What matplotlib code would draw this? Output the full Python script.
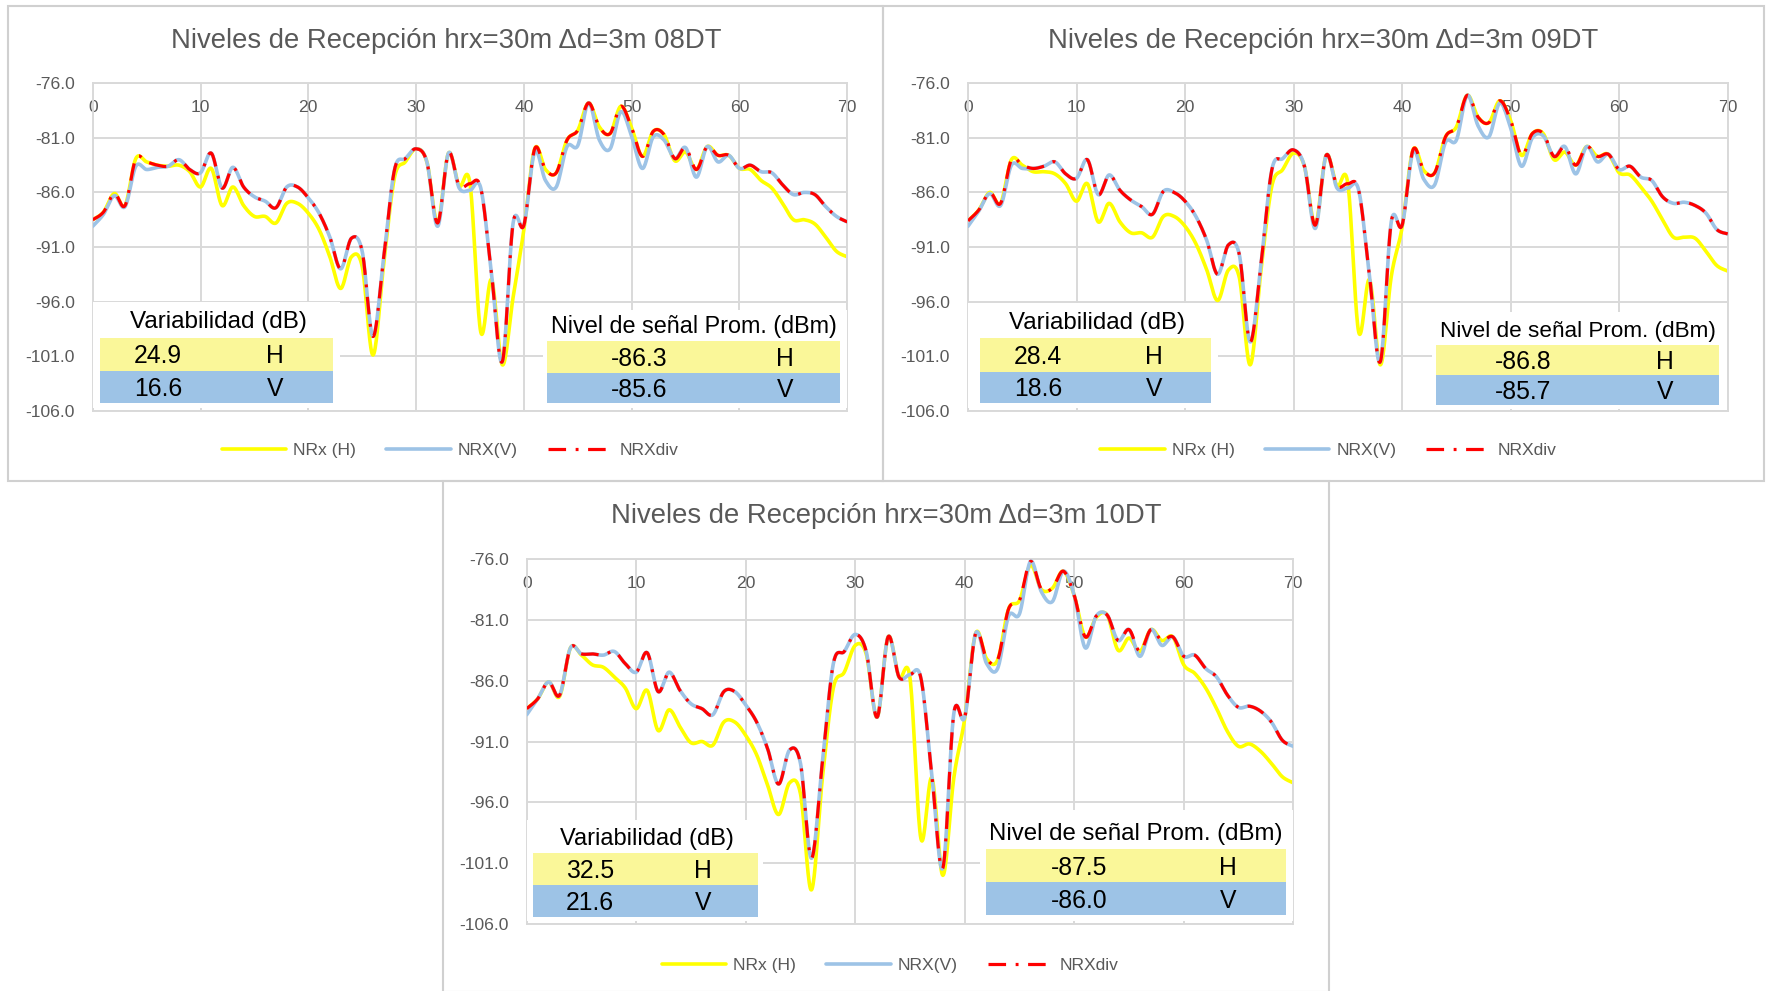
import numpy as np
import matplotlib
matplotlib.use("Agg")
import matplotlib.pyplot as plt
from matplotlib.patches import Rectangle

# ---------------- data ----------------
distance = list(range(0, 71))

titles = ["Niveles de Recepción hrx=30m Δd=3m 08DT",
          "Niveles de Recepción hrx=30m Δd=3m 09DT",
          "Niveles de Recepción hrx=30m Δd=3m 10DT"]
series_labels = ["NRx (H)", "NRX(V)", "NRXdiv"]
y_ticks = [-106.0, -101.0, -96.0, -91.0, -86.0, -81.0, -76.0]
x_ticks = [0, 10, 20, 30, 40, 50, 60, 70]

h_08 = [-88.5, -87.8, -86.1, -87.2, -82.9, -83.2, -83.5, -83.6, -83.5, -84.1,
        -85.5, -83.8, -87.2, -85.5, -87.2, -88.2, -88.2, -88.8, -87.0, -87.0,
        -87.9, -89.4, -91.9, -94.8, -91.9, -92.8, -100.9, -92.5, -84.6, -83.2,
        -82.0, -83.2, -88.8, -82.4, -85.4, -85.2, -98.8, -94.0, -101.8, -95.6,
        -89.4, -82.0, -83.9, -84.2, -81.2, -80.3, -77.8, -80.0, -80.6, -78.1,
        -80.1, -82.7, -80.4, -80.7, -83.1, -82.3, -83.9, -81.8, -82.6, -82.6,
        -83.8, -83.9, -84.9, -85.6, -87.0, -88.5, -88.5, -88.9, -90.1, -91.4, -91.9]
v_08 = [-89.1, -88.0, -86.3, -87.3, -83.6, -83.9, -83.7, -83.6, -83.0, -83.9,
        -84.2, -82.4, -85.6, -83.7, -85.5, -86.4, -86.8, -87.4, -85.5, -85.5,
        -86.5, -87.9, -90.1, -93.0, -90.2, -91.4, -99.2, -91.9, -83.9, -82.9,
        -82.0, -83.2, -89.1, -82.4, -85.6, -85.8, -85.6, -93.5, -101.5, -88.8,
        -89.0, -82.3, -84.9, -85.5, -81.8, -81.7, -77.8, -81.2, -82.0, -78.6,
        -80.9, -83.8, -80.9, -81.2, -82.9, -81.9, -84.6, -81.8, -83.2, -82.6,
        -83.8, -83.5, -84.1, -84.2, -85.3, -86.2, -86.0, -86.2, -87.3, -88.2, -88.7]
div_08 = [-88.5, -87.8, -86.1, -87.2, -82.9, -83.2, -83.5, -83.6, -83.0, -83.9,
          -84.2, -82.4, -85.6, -83.7, -85.5, -86.4, -86.8, -87.4, -85.5, -85.5,
          -86.5, -87.9, -90.1, -93.0, -90.2, -91.4, -99.2, -91.9, -83.9, -82.9,
          -82.0, -83.2, -88.8, -82.4, -85.4, -85.2, -85.6, -93.5, -101.5, -88.8,
          -89.0, -82.0, -83.9, -84.2, -81.2, -80.3, -77.8, -80.0, -80.6, -78.1,
          -80.1, -82.7, -80.4, -80.7, -82.9, -81.9, -83.9, -81.8, -82.6, -82.6,
          -83.8, -83.5, -84.1, -84.2, -85.3, -86.2, -86.0, -86.2, -87.3, -88.2, -88.7]

h_09 = [-88.6, -87.6, -86.0, -87.0, -83.0, -83.5, -84.1, -84.1, -84.3, -85.2,
        -86.8, -85.2, -88.7, -87.0, -88.7, -89.7, -89.7, -90.1, -88.2, -88.2,
        -89.1, -90.7, -93.1, -95.9, -93.1, -93.8, -101.8, -93.1, -85.4, -83.9,
        -82.4, -83.6, -89.0, -82.6, -85.4, -85.2, -98.8, -94.0, -101.8, -93.7,
        -89.2, -82.1, -84.0, -84.2, -80.9, -80.0, -77.1, -79.1, -79.6, -77.6,
        -79.4, -82.6, -80.6, -80.6, -83.0, -82.3, -83.5, -81.8, -82.7, -82.5,
        -84.2, -84.4, -85.5, -86.8, -88.5, -90.1, -90.1, -90.2, -91.4, -92.7, -93.2]
v_09 = [-89.1, -87.7, -86.1, -87.2, -83.5, -83.8, -83.8, -83.6, -83.2, -84.3,
        -84.7, -83.0, -86.2, -84.4, -85.8, -86.7, -87.3, -88.0, -85.9, -86.0,
        -86.8, -88.2, -90.4, -93.5, -90.8, -91.7, -99.7, -92.5, -83.9, -82.9,
        -82.1, -83.6, -89.3, -82.6, -85.6, -85.6, -85.8, -93.7, -101.5, -88.7,
        -89.0, -82.3, -84.8, -85.3, -81.4, -81.2, -77.1, -79.9, -80.9, -77.8,
        -80.1, -83.6, -81.0, -80.8, -82.7, -81.8, -84.3, -81.8, -83.2, -82.5,
        -83.9, -83.6, -84.6, -84.9, -86.4, -87.0, -86.9, -87.2, -87.9, -89.4, -89.8]
div_09 = [-88.6, -87.6, -86.0, -87.0, -83.0, -83.5, -83.8, -83.6, -83.2, -84.3,
          -84.7, -83.0, -86.2, -84.4, -85.8, -86.7, -87.3, -88.0, -85.9, -86.0,
          -86.8, -88.2, -90.4, -93.5, -90.8, -91.7, -99.7, -92.5, -83.9, -82.9,
          -82.1, -83.6, -89.0, -82.6, -85.4, -85.2, -85.8, -93.7, -101.5, -88.7,
          -89.0, -82.1, -84.0, -84.2, -80.9, -80.0, -77.1, -79.1, -79.6, -77.6,
          -79.4, -82.6, -80.6, -80.6, -82.7, -81.8, -83.5, -81.8, -82.7, -82.5,
          -83.9, -83.6, -84.6, -84.9, -86.4, -87.0, -86.9, -87.2, -87.9, -89.4, -89.8]

h_10 = [-88.3, -87.5, -86.1, -87.3, -83.3, -83.9, -84.7, -84.9, -85.7, -86.6,
        -88.3, -86.8, -90.1, -88.4, -89.8, -91.1, -91.0, -91.3, -89.4, -89.4,
        -90.5, -92.1, -94.6, -97.0, -94.4, -95.3, -103.2, -94.0, -86.6, -85.3,
        -83.1, -83.8, -89.0, -82.4, -85.7, -85.8, -99.0, -94.0, -102.0, -94.0,
        -89.1, -82.1, -84.2, -84.3, -80.1, -79.4, -76.5, -78.5, -78.4, -77.0,
        -79.0, -82.4, -80.8, -80.6, -83.5, -82.5, -83.6, -81.8, -82.7, -82.4,
        -84.7, -85.4, -86.6, -88.3, -90.2, -91.4, -91.2, -91.8, -92.8, -93.9, -94.4]
v_10 = [-88.8, -87.5, -86.1, -87.2, -83.3, -83.8, -83.8, -83.9, -83.6, -84.6,
        -85.3, -83.7, -86.9, -85.3, -86.8, -87.9, -88.3, -88.8, -86.9, -86.9,
        -88.0, -89.4, -91.6, -94.5, -91.7, -92.8, -100.6, -92.7, -84.6, -83.6,
        -82.2, -83.6, -89.0, -82.4, -85.7, -85.5, -85.8, -93.8, -101.4, -88.7,
        -89.0, -82.1, -84.6, -85.0, -80.7, -80.5, -76.2, -78.7, -79.5, -77.0,
        -79.0, -83.3, -80.7, -80.6, -82.7, -81.8, -84.0, -81.8, -83.1, -82.4,
        -84.0, -83.9, -85.0, -85.7, -87.2, -88.2, -88.1, -88.5, -89.4, -90.9, -91.4]
div_10 = [-88.3, -87.5, -86.1, -87.2, -83.3, -83.8, -83.8, -83.9, -83.6, -84.6,
          -85.3, -83.7, -86.9, -85.3, -86.8, -87.9, -88.3, -88.8, -86.9, -86.9,
          -88.0, -89.4, -91.6, -94.5, -91.7, -92.8, -100.6, -92.7, -84.6, -83.6,
          -82.2, -83.6, -89.0, -82.4, -85.7, -85.5, -85.8, -93.8, -101.4, -88.7,
          -89.0, -82.1, -84.2, -84.3, -80.1, -79.4, -76.2, -78.5, -78.4, -77.0,
          -79.0, -82.4, -80.7, -80.6, -82.7, -81.8, -83.6, -81.8, -82.7, -82.4,
          -84.0, -83.9, -85.0, -85.7, -87.2, -88.2, -88.1, -88.5, -89.4, -90.9, -91.4]

variab_h = ["24.9", "28.4", "32.5"]
variab_v = ["16.6", "18.6", "21.6"]
prom_h = ["-86.3", "-86.8", "-87.5"]
prom_v = ["-85.6", "-85.7", "-86.0"]

# ---------------- helpers ----------------
FONT = "Liberation Sans"
W, H = 1773, 991
fig = plt.figure(figsize=(W / 100, H / 100), dpi=100)


def fx(p):
    return p / W


def fy(p):
    return 1 - p / H


def rect(x0, y0, x1, y1, **kw):
    r = Rectangle((fx(x0), fy(y1)), (x1 - x0) / W, (y1 - y0) / H,
                  transform=fig.transFigure, **kw)
    fig.patches.append(r)


def ftext(x, y, s, size, color="black", **kw):
    fig.text(fx(x), fy(y), s, fontsize=size, color=color, family=FONT,
             ha="center", va="center", zorder=4, **kw)


def smooth(x, y, n=20):
    # Excel-like smoothed line (Catmull-Rom through the points as cubic Bezier)
    P = np.column_stack([np.asarray(x, float), np.asarray(y, float)])
    out = [P[0]]
    t = np.linspace(0, 1, n + 1)[1:][:, None]
    for i in range(len(P) - 1):
        p0 = P[i - 1] if i > 0 else P[i]
        p1, p2 = P[i], P[i + 1]
        p3 = P[i + 2] if i + 2 < len(P) else P[i + 1]
        c1 = p1 + (p2 - p0) / 6.0
        c2 = p2 - (p3 - p1) / 6.0
        seg = ((1 - t) ** 3) * p1 + 3 * ((1 - t) ** 2) * t * c1 + 3 * (1 - t) * t ** 2 * c2 + t ** 3 * p2
        out.extend(seg)
    out = np.array(out)
    return out[:, 0], out[:, 1]


charts = [
    dict(data=(h_08, v_08, div_08), area=(92.7, 83.3, 847.3, 410.7),
         frame=(8, 6, 883, 481), title_xy=(446, 40.7), legend_xy=(450, 450),
         ltab=dict(box=(92.7, 302, 340, 408), title=(218, 320.7), tsize=17.5, row=(100, 333.3, 337.7, 371, 403.3), val=158, let=275),
         rtab=dict(box=(543, 310, 847, 408), title=(694, 325), tsize=16.8, row=(547.3, 840, 340.7, 372.7, 403.3), val=639, let=785)),
    dict(data=(h_09, v_09, div_09), area=(968, 83.3, 1727.7, 410.7),
         frame=(883, 6, 1764, 481), title_xy=(1323.5, 40.7), legend_xy=(1328.5, 450),
         ltab=dict(box=(968, 303, 1218, 408), title=(1097, 322), tsize=17.3, row=(980, 1210.7, 338.3, 371.7, 403.3), val=1038, let=1154),
         rtab=dict(box=(1432, 312, 1727, 409), title=(1578, 330), tsize=16.2, row=(1436, 1719, 345, 375, 405), val=1523, let=1665)),
    dict(data=(h_10, v_10, div_10), area=(526.7, 559, 1293.3, 924),
         frame=(443, 481, 1329, 992), title_xy=(886, 515.7), legend_xy=(890, 965),
         ltab=dict(box=(526.7, 820, 763, 921), title=(646.7, 837.7), tsize=17.0, row=(532.7, 758.3, 853.3, 885, 917.3), val=590, let=702.7),
         rtab=dict(box=(980, 810, 1293, 921), title=(1136, 833.3), tsize=17.3, row=(985.7, 1285.7, 849, 882.3, 915), val=1079, let=1228.3)),
]

YEL_ROW = "#FAF799"
BLUE_ROW = "#9DC3E6"
GRID = "#D9D9D9"
TXT = "#595959"

for ci, c in enumerate(charts):
    x0, y0, x1, y1 = c["area"]
    ax = fig.add_axes([fx(x0), fy(y1), (x1 - x0) / W, (y1 - y0) / H])
    ax.set_xlim(0, 70)
    ax.set_ylim(-106, -76)
    ax.set_xticks(x_ticks)
    ax.set_xticklabels([str(v) for v in x_ticks])
    ax.set_yticks(y_ticks)
    ax.set_yticklabels(["%.1f" % v for v in y_ticks])
    ax.grid(True, color=GRID, lw=1.4)
    ax.set_axisbelow(True)
    for sp in ax.spines.values():
        sp.set_color(GRID)
        sp.set_linewidth(1.4)
    ax.tick_params(axis="x", top=True, bottom=False, labeltop=True, labelbottom=False,
                   length=0, pad=-23, labelsize=12.6, labelcolor=TXT)
    ax.tick_params(axis="y", length=0, pad=13, labelsize=12.6, labelcolor=TXT)
    for lab in ax.get_xticklabels() + ax.get_yticklabels():
        lab.set_family(FONT)

    hs, vs, ds = c["data"]
    xs, ys = smooth(distance, hs)
    lh, = ax.plot(xs, ys, color="#FFFF00", lw=2.6, solid_capstyle="round", zorder=2)
    xs, ys = smooth(distance, vs)
    lv, = ax.plot(xs, ys, color="#9DC3E6", lw=2.6, solid_capstyle="round", zorder=3)
    xs, ys = smooth(distance, ds)
    ld, = ax.plot(xs, ys, color="#FF0000", lw=2.3, linestyle=(0, (5.5, 3.0, 0.9, 3.0)),
                  dash_capstyle="butt", zorder=4)

    # frame of the chart object
    fx0, fy0, fx1, fy1 = c["frame"]
    rect(fx0, fy0, fx1, fy1, fill=False, edgecolor="#D0D0D0", lw=1.5, zorder=1)

    tx, ty = c["title_xy"]
    ftext(tx, ty, titles[ci], 19.8, color=TXT)

    lx, ly = c["legend_xy"]
    fig.legend([lh, lv, ld], series_labels, loc="center", bbox_to_anchor=(fx(lx), fy(ly)),
               ncol=3, frameon=False, handlelength=3.7, handletextpad=0.4, columnspacing=1.7,
               prop=dict(family=FONT, size=12.6), labelcolor=TXT)

    # tables
    for key, head, hv, vv in (("ltab", "Variabilidad (dB)", variab_h[ci], variab_v[ci]),
                              ("rtab", "Nivel de señal Prom. (dBm)", prom_h[ci], prom_v[ci])):
        t = c[key]
        bx0, by0, bx1, by1 = t["box"]
        rect(bx0, by0, bx1, by1, facecolor="white", edgecolor="none", zorder=2)
        rx0, rx1, ry0, ry1, ry2 = t["row"]
        rect(rx0, ry0, rx1, ry1, facecolor=YEL_ROW, edgecolor="none", zorder=3)
        rect(rx0, ry1, rx1, ry2, facecolor=BLUE_ROW, edgecolor="none", zorder=3)
        ftext(t["title"][0], t["title"][1] + 1, head, t["tsize"])
        ftext(t["val"], (ry0 + ry1) / 2 + 2, hv, 17.8)
        ftext(t["let"], (ry0 + ry1) / 2 + 2, "H", 17.8)
        ftext(t["val"], (ry1 + ry2) / 2 + 2, vv, 17.8)
        ftext(t["let"], (ry1 + ry2) / 2 + 2, "V", 17.8)

fig.savefig("out.png", dpi=100, facecolor="white")
